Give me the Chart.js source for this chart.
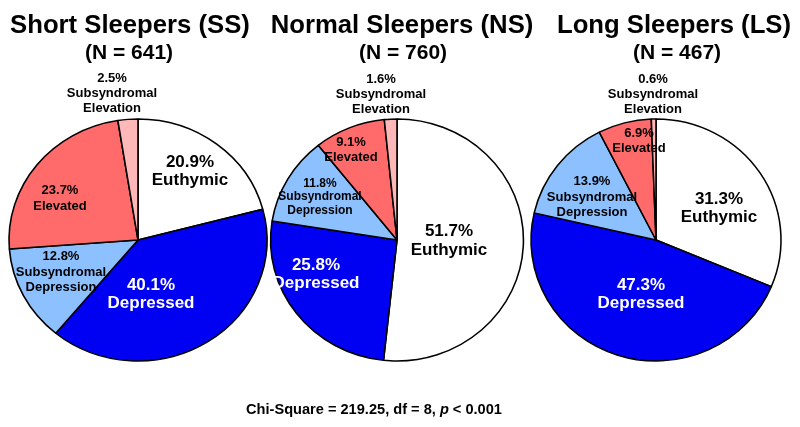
<!DOCTYPE html>
<html>
<head>
<meta charset="utf-8">
<script src="https://cdn.jsdelivr.net/npm/chart.js@4.4.0/dist/chart.umd.min.js"></script>
<style>
  html, body { margin: 0; padding: 0; background: #fff; }
  #wrap { position: relative; width: 800px; height: 427px; overflow: hidden; font-family: "Liberation Sans", Arial, sans-serif; }
  #wrap canvas { position: absolute; left: 0; top: 0; }
  .t { position: absolute; text-align: center; font-weight: bold; color: #000; white-space: nowrap; }
</style>
</head>
<body>
<div id="wrap">
  <canvas id="c0" width="800" height="427"></canvas>
  <canvas id="c1" width="800" height="427"></canvas>
  <canvas id="c2" width="800" height="427"></canvas>
</div>
<script>
// ---- data ----
const categories = ['Euthymic', 'Depressed', 'Subsyndromal Depression', 'Elevated', 'Subsyndromal Elevation'];
const categoryLines = [['Euthymic'], ['Depressed'], ['Subsyndromal', 'Depression'], ['Elevated'], ['Subsyndromal', 'Elevation']];
const ssValues = [20.9, 40.1, 12.8, 23.7, 2.5];
const nsValues = [51.7, 25.8, 11.8, 9.1, 1.6];
const lsValues = [31.3, 47.3, 13.9, 6.9, 0.6];
const groupTitles = ['Short Sleepers (SS)', 'Normal Sleepers (NS)', 'Long Sleepers (LS)'];
const groupNs = [641, 760, 467];
const footnote = 'Chi-Square = 219.25, df = 8, ';

// ---- styles / layout ----
const sliceColors = ['#ffffff', '#0000f2', '#8cc0ff', '#ff6b6b', '#ffb8b8'];
const labelColors = ['#000', '#fff', '#000', '#000', '#000'];
const groups = [
  { values: ssValues, cx: 138, sx: 1.066, titleX: 130, subX: 129,
    offs: [[52,-69],[13,54],[-77,32],[-78,-42],[-26,-147]],
    sizes: [17,17,13,13,13], lh: [18,18,15.5,16,15] },
  { values: nsValues, cx: 397, sx: 1.045, titleX: 402, subX: 403,
    offs: [[52,1],[-81,34],[-77,-43],[-46,-90],[-16,-146]],
    sizes: [17,17,12,13,13], lh: [19,18,13.5,15,15] },
  { values: lsValues, cx: 656, sx: 1.033, titleX: 674, subX: 677,
    offs: [[63,-32],[-15,54],[-64,-43],[-17,-99],[-3,-146]],
    sizes: [17,17,13,13,13], lh: [18,18,15.5,15,15] }
];
const CY = 240, RY = 121, HALF = 133, W = 800, H = 427;
const FONT = '"Liberation Sans", Arial, sans-serif';

const ellipsePlugin = {
  id: 'ellipse',
  beforeDatasetsDraw(chart, args, opts) {
    const ctx = chart.ctx;
    const a = chart.chartArea;
    const cx = (a.left + a.right) / 2, cy = (a.top + a.bottom) / 2;
    ctx.save();
    ctx.translate(cx, cy);
    ctx.scale(opts.sx || 1, 1);
    ctx.translate(-cx, -cy);
  },
  afterDatasetsDraw(chart) { chart.ctx.restore(); }
};

const labelPlugin = {
  id: 'sliceLabels',
  afterDraw(chart, args, opts) {
    const ctx = chart.ctx;
    const meta = chart.getDatasetMeta(0);
    const vals = chart.data.datasets[0].data;
    ctx.save();
    ctx.textAlign = 'center';
    ctx.textBaseline = 'middle';
    meta.data.forEach((arc, i) => {
      const g = opts.group;
      const lines = [vals[i].toFixed(1) + '%'].concat(categoryLines[i]);
      const lh = g.lh[i];
      const bx = arc.x + g.offs[i][0];
      const by = arc.y + g.offs[i][1];
      ctx.font = 'bold ' + g.sizes[i] + 'px ' + FONT;
      ctx.fillStyle = labelColors[i];
      const top = by - (lines.length - 1) * lh / 2;
      lines.forEach((t, k) => ctx.fillText(t, bx, top + k * lh));
    });
    ctx.restore();
  }
};

groups.forEach((g, idx) => {
  new Chart(document.getElementById('c' + idx), {
    type: 'pie',
    data: {
      labels: categories,
      datasets: [{
        data: g.values,
        backgroundColor: sliceColors,
        borderColor: '#000',
        borderWidth: 1.5,
        clip: false
      }]
    },
    options: {
      responsive: false,
      animation: false,
      devicePixelRatio: 1,
      radius: RY,
      layout: { padding: { left: g.cx - HALF, right: W - (g.cx + HALF), top: CY - HALF, bottom: H - (CY + HALF) } },
      plugins: {
        legend: { display: false },
        tooltip: { enabled: false },
        ellipse: { sx: g.sx },
        sliceLabels: { group: g }
      }
    },
    plugins: [ellipsePlugin, labelPlugin]
  });

  const wrap = document.getElementById('wrap');
  const t = document.createElement('div');
  t.className = 't';
  t.style.cssText = 'left:' + (g.titleX - 150) + 'px;width:300px;top:11px;font-size:25.7px;line-height:26px;';
  t.textContent = groupTitles[idx];
  wrap.appendChild(t);
  const s = document.createElement('div');
  s.className = 't';
  s.style.cssText = 'left:' + (g.subX - 100) + 'px;width:200px;top:41px;font-size:21px;line-height:21px;';
  s.textContent = '(N = ' + groupNs[idx] + ')';
  wrap.appendChild(s);
});

const f = document.createElement('div');
f.className = 't';
f.style.cssText = 'left:174px;width:400px;top:402px;font-size:14.6px;line-height:15px;';
f.innerHTML = footnote + '<i>p</i> &lt; 0.001';
document.getElementById('wrap').appendChild(f);
</script>
</body>
</html>
